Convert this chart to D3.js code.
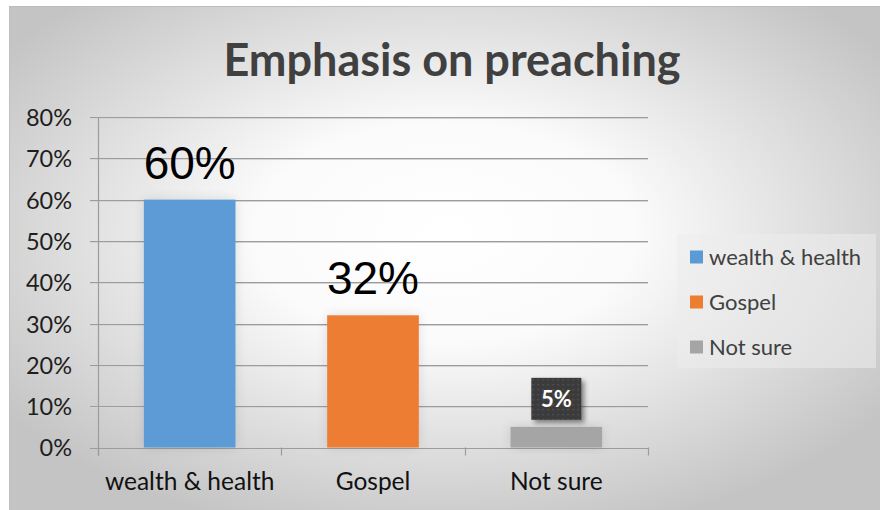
<!DOCTYPE html>
<html>
<head>
<meta charset="utf-8">
<script src="https://cdn.jsdelivr.net/npm/d3@7/dist/d3.min.js"></script>
<style>
  html, body { margin: 0; padding: 0; background: #fff; }
  svg { display: block; }
</style>
</head>
<body>
<div id="chart"></div>
<script>
// Survey answers: what the preaching emphasises
const title = "Emphasis on preaching";
const categories = ["wealth & health", "Gospel", "Not sure"];
const values = [60, 32, 5];            // percent of respondents
const colors = ["#5b9bd5", "#ed7d31", "#a5a5a5"];
const yTicks = [0, 10, 20, 30, 40, 50, 60, 70, 80];
const yTickLabels = ["0%", "10%", "20%", "30%", "40%", "50%", "60%", "70%", "80%"];

const W = 880, H = 510;
const plot = { left: 98, right: 648, top: 117, bottom: 447.5 };
const uiFont = "Lato, 'Open Sans', sans-serif";

const svg = d3.select("#chart").append("svg")
  .attr("width", W).attr("height", H);

const defs = svg.append("defs");

// soft radial backdrop of the chart area
const bg = defs.append("radialGradient").attr("id", "bgGrad")
  .attr("cx", "50%").attr("cy", "45%").attr("r", "62%");
bg.append("stop").attr("offset", "0%").attr("stop-color", "#ffffff");
bg.append("stop").attr("offset", "35%").attr("stop-color", "#fbfbfb");
bg.append("stop").attr("offset", "100%").attr("stop-color", "#c4c4c4");

// faint halo around the bars
const halo = defs.append("filter").attr("id", "halo")
  .attr("x", "-30%").attr("y", "-30%").attr("width", "160%").attr("height", "160%");
halo.append("feGaussianBlur").attr("in", "SourceAlpha").attr("stdDeviation", 6).attr("result", "b");
halo.append("feComponentTransfer").attr("in", "b").attr("result", "s")
  .append("feFuncA").attr("type", "linear").attr("slope", 0.12);
const hm = halo.append("feMerge");
hm.append("feMergeNode").attr("in", "s");
hm.append("feMergeNode").attr("in", "SourceGraphic");

// drop shadow for the small value tag
const tagShadow = defs.append("filter").attr("id", "tagShadow")
  .attr("x", "-30%").attr("y", "-30%").attr("width", "170%").attr("height", "170%");
tagShadow.append("feGaussianBlur").attr("in", "SourceAlpha").attr("stdDeviation", 2.5).attr("result", "b");
tagShadow.append("feOffset").attr("in", "b").attr("dx", 3).attr("dy", 3).attr("result", "o");
tagShadow.append("feComponentTransfer").attr("in", "o").attr("result", "s")
  .append("feFuncA").attr("type", "linear").attr("slope", 0.45);
const tm = tagShadow.append("feMerge");
tm.append("feMergeNode").attr("in", "s");
tm.append("feMergeNode").attr("in", "SourceGraphic");

// dotted texture on the tag
const dots = defs.append("pattern").attr("id", "dots")
  .attr("width", 5).attr("height", 5).attr("patternUnits", "userSpaceOnUse");
dots.append("rect").attr("width", 5).attr("height", 5).attr("fill", "#3a3a3a");
dots.append("rect").attr("x", 1).attr("y", 1).attr("width", 1.5).attr("height", 1.5).attr("fill", "#575757");

// chart area
svg.append("rect").attr("x", 9).attr("y", 6).attr("width", W - 9).attr("height", H - 6)
  .attr("fill", "url(#bgGrad)");
svg.append("line").attr("x1", 9).attr("x2", W).attr("y1", 6.5).attr("y2", 6.5)
  .attr("stroke", "#bdbdbd").attr("stroke-width", 1);
svg.append("line").attr("x1", 9.5).attr("x2", 9.5).attr("y1", 6).attr("y2", H)
  .attr("stroke", "#c0c0c0").attr("stroke-width", 1);

// title
svg.append("text")
  .attr("x", 452).attr("y", 76)
  .attr("text-anchor", "middle")
  .attr("font-family", uiFont).attr("font-weight", "bold")
  .attr("font-size", 45).attr("fill", "#404040")
  .text(title);

// scales
const y = d3.scaleLinear().domain([0, 80]).range([plot.bottom, plot.top]);
const x = d3.scaleBand().domain(categories).range([plot.left, plot.right])
  .paddingInner(0.5).paddingOuter(0.25);

// gridlines with a light trailing edge
const grid = svg.append("g");
grid.selectAll("line.shade").data(yTicks.filter(d => d > 0)).join("line")
  .attr("class", "shade")
  .attr("x1", plot.left - 8).attr("x2", plot.right)
  .attr("y1", d => Math.round(y(d)) + 1.5).attr("y2", d => Math.round(y(d)) + 1.5)
  .attr("stroke", "#d4d4d4").attr("stroke-width", 1);
grid.selectAll("line.main").data(yTicks).join("line")
  .attr("class", "main")
  .attr("x1", plot.left - 8).attr("x2", plot.right)
  .attr("y1", d => Math.round(y(d)) + 0.5).attr("y2", d => Math.round(y(d)) + 0.5)
  .attr("stroke", "#9c9c9c").attr("stroke-width", 1.2);

// y axis
const yAxis = svg.append("g")
  .attr("transform", `translate(${plot.left},0)`)
  .call(d3.axisLeft(y).tickValues(yTicks).tickSize(0).tickPadding(26)
    .tickFormat((d, i) => yTickLabels[i]));
yAxis.select(".domain").remove();
yAxis.selectAll("text")
  .attr("font-family", uiFont).attr("font-size", 23.5).attr("fill", "#1e1e1e")
  .attr("dy", "0.36em");
svg.append("line")
  .attr("x1", plot.left + 0.5).attr("x2", plot.left + 0.5)
  .attr("y1", plot.top).attr("y2", plot.bottom + 8)
  .attr("stroke", "#9c9c9c").attr("stroke-width", 1.2);

// category boundaries on the x axis
const bounds = d3.range(categories.length + 1).map(i => plot.left + i * x.step());
svg.append("g").selectAll("line").data(bounds).join("line")
  .attr("x1", d => Math.round(d) + 0.5).attr("x2", d => Math.round(d) + 0.5)
  .attr("y1", plot.bottom).attr("y2", plot.bottom + 8)
  .attr("stroke", "#9c9c9c").attr("stroke-width", 1.2);

// category labels
svg.append("g").selectAll("text").data(categories).join("text")
  .attr("x", d => x(d) + x.bandwidth() / 2)
  .attr("y", 490)
  .attr("text-anchor", "middle")
  .attr("font-family", uiFont).attr("font-size", 24.5).attr("fill", "#111")
  .text(d => d);

// bars
svg.append("g").selectAll("rect").data(categories).join("rect")
  .attr("x", d => x(d))
  .attr("y", (d, i) => y(values[i]))
  .attr("width", x.bandwidth())
  .attr("height", (d, i) => y(0) - y(values[i]))
  .attr("fill", (d, i) => colors[i])
  .attr("filter", "url(#halo)");

// value labels: large ones above the first two bars
const fmt = v => v + "%";
svg.append("g").selectAll("text").data(categories.slice(0, 2)).join("text")
  .attr("x", d => x(d) + x.bandwidth() / 2)
  .attr("y", (d, i) => y(values[i]) - 21)
  .attr("text-anchor", "middle")
  .attr("font-family", "'Liberation Sans', Arial, sans-serif")
  .attr("font-size", 46).attr("fill", "#000")
  .text((d, i) => fmt(values[i]));

// dark tag above the last bar
const last = categories.length - 1;
const tagW = 50, tagH = 42;
const tag = svg.append("g")
  .attr("transform", `translate(${x(categories[last]) + x.bandwidth() / 2 - tagW / 2},${y(values[last]) - 7 - tagH})`);
tag.append("rect").attr("width", tagW).attr("height", tagH)
  .attr("fill", "url(#dots)").attr("filter", "url(#tagShadow)");
tag.append("text")
  .attr("x", tagW / 2).attr("y", tagH / 2 + 8)
  .attr("text-anchor", "middle")
  .attr("font-family", uiFont).attr("font-weight", "bold")
  .attr("font-size", 22).attr("fill", "#fff")
  .text(fmt(values[last]));

// legend
const legend = svg.append("g");
legend.append("rect").attr("x", 677).attr("y", 234).attr("width", 199).attr("height", 134)
  .attr("fill", "#ececec").attr("opacity", 0.55);
const items = legend.selectAll("g.item").data(categories).join("g")
  .attr("class", "item")
  .attr("transform", (d, i) => `translate(690,${257 + i * 45})`);
items.append("rect").attr("x", 0).attr("y", -6.5).attr("width", 13).attr("height", 13)
  .attr("fill", (d, i) => colors[i]);
items.append("text").attr("x", 19).attr("y", 0).attr("dy", "0.36em")
  .attr("font-family", uiFont).attr("font-size", 22).attr("fill", "#404040")
  .text(d => d);
</script>
</body>
</html>
